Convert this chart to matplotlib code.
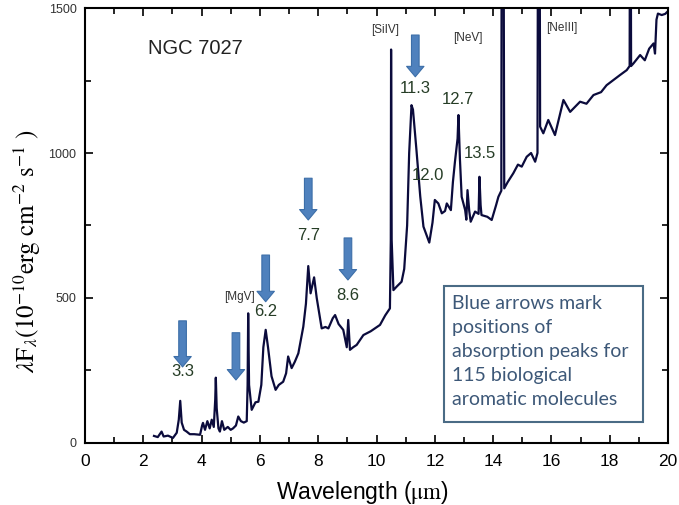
import matplotlib
matplotlib.use('Agg')
import matplotlib.pyplot as plt
from matplotlib.patches import Rectangle
from matplotlib.ticker import MultipleLocator

plt.rcParams['mathtext.fontset'] = 'stix'

# spectrum of NGC 7027, lines above 1500 run off the top
wavelength = [2.37, 2.5, 2.63, 2.7, 2.85, 3.02, 3.15, 3.22, 3.27, 3.32, 3.4, 3.49, 3.6, 3.75,
              3.95, 4.02, 4.05, 4.12, 4.2, 4.28, 4.35, 4.42, 4.47, 4.49, 4.52, 4.58, 4.63, 4.7,
              4.78, 4.9, 5.0, 5.08, 5.18, 5.26, 5.35, 5.45, 5.55, 5.58, 5.6, 5.63, 5.72, 5.85,
              5.95, 6.05, 6.12, 6.2, 6.28, 6.4, 6.54, 6.65, 6.8, 6.9, 6.97, 7.09, 7.2, 7.32,
              7.49, 7.58, 7.66, 7.74, 7.86, 7.95, 8.12, 8.25, 8.35, 8.5, 8.58, 8.7, 8.86, 8.98,
              9.03, 9.09, 9.2, 9.32, 9.55, 9.8, 10.12, 10.3, 10.46, 10.49, 10.5, 10.52, 10.58,
              10.7, 10.86, 10.95, 11.05, 11.12, 11.2, 11.25, 11.37, 11.5, 11.61, 11.81, 11.92,
              12.0, 12.12, 12.24, 12.35, 12.41, 12.55, 12.62, 12.69, 12.78, 12.81, 12.86, 12.92,
              13.04, 13.08, 13.12, 13.18, 13.23, 13.38, 13.5, 13.53, 13.57, 13.6, 13.8, 13.95,
              14.1, 14.18, 14.28, 14.3, 14.34, 14.38, 14.5, 14.69, 14.85, 14.98, 15.15, 15.3,
              15.44, 15.52, 15.55, 15.58, 15.61, 15.72, 15.89, 16.12, 16.41, 16.64, 16.98, 17.2,
              17.44, 17.7, 17.89, 18.1, 18.35, 18.58, 18.68, 18.7, 18.73, 18.81, 19.04, 19.2,
              19.35, 19.5, 19.55, 19.6, 19.65, 19.78, 19.9, 20.0]
flux = [24, 20, 39, 22, 25, 17, 35, 80, 145, 70, 45, 39, 30, 30,
        28, 60, 69, 45, 75, 50, 80, 55, 150, 225, 120, 50, 39, 75,
        45, 55, 45, 50, 60, 91, 75, 70, 75, 200, 447, 200, 114, 140,
        142, 200, 330, 390, 330, 230, 183, 200, 211, 240, 298, 258, 280, 309,
        401, 480, 610, 516, 571, 500, 395, 400, 395, 430, 441, 410, 390, 330,
        424, 321, 330, 338, 372, 385, 407, 440, 464, 700, 1357, 700, 527,
        540, 556, 600, 750, 1000, 1165, 1150, 1010, 850, 746, 691, 760,
        838, 826, 792, 800, 826, 803, 900, 970, 1050, 1131, 980, 849,
        803, 770, 872, 800, 763, 798, 790, 918, 820, 786, 780, 769,
        820, 849, 870, 2500, 2500, 878, 900, 930, 960, 953, 987, 1000,
        970, 1000, 2500, 2500, 1091, 1068, 1114, 1062, 1183, 1142, 1177, 1170,
        1200, 1210, 1234, 1250, 1269, 1286, 1300, 2500, 1300, 1309, 1338, 1320,
        1360, 1378, 1343, 1460, 1481, 1476, 1480, 1490]

# blue arrows: (position, arrow top, arrow tip, label)
arrow_x = [3.35, 5.18, 6.2, 7.66, 9.02, 11.33]
arrow_top = [421, 380, 648, 913, 707, 1407]
arrow_tip = [262, 217, 487, 769, 562, 1263]
arrow_labels = ['3.3', '', '6.2', '7.7', '8.6', '11.3']
arrow_label_y = [245, 0, 452, 714, 510, 1224]

# feature labels without arrows
peak_labels = ['12.0', '12.7', '13.5']
peak_x = [11.77, 12.8, 13.55]
peak_y = [924, 1183, 1000]

# emission line ids
line_ids = ['[SiIV]', '[NeV]', '[NeIII]', '[MgV]']
line_x = [10.29, 13.14, 16.36, 5.3]
line_y = [1424, 1397, 1431, 503]

fig = plt.figure(figsize=(6.79, 5.05), dpi=100)
ax = fig.add_axes([0.125, 0.123, 0.859, 0.861])

ax.plot(wavelength, flux, color='#0b0b3c', lw=1.6)

for x, top, tip, lab, ly in zip(arrow_x, arrow_top, arrow_tip, arrow_labels, arrow_label_y):
    ax.annotate('', xy=(x, tip), xytext=(x, top),
                arrowprops=dict(facecolor='#4f81bd', edgecolor='#3c6ea8', lw=0.8,
                                width=5.5, headwidth=12.5, headlength=7.5, shrink=0))
    if lab:
        ax.text(x, ly, lab, ha='center', va='center', fontsize=12,
                color='#263d26', family='Liberation Sans')

for lab, x, y in zip(peak_labels, peak_x, peak_y):
    ax.text(x, y, lab, ha='center', va='center', fontsize=12,
            color='#263d26', family='Liberation Sans')

for lab, x, y in zip(line_ids, line_x, line_y):
    ax.text(x, y, lab, ha='center', va='center', fontsize=8.5,
            color='#333333', family='Liberation Sans')

ax.text(3.8, 1362, 'NGC 7027', ha='center', va='center', fontsize=14.5,
        color='#222222', family='Liberation Sans')

# note box
ax.add_patch(Rectangle((12.32, 72), 6.82, 469, facecolor='white',
                       edgecolor='#4a6b85', lw=1.5, zorder=3))
ax.text(12.6, 510, 'Blue arrows mark\npositions of\nabsorption peaks for\n115 biological\naromatic molecules',
        ha='left', va='top', fontsize=14, color='#3d5878', family='Lato',
        linespacing=1.5, zorder=4)

ax.set_xlim(0, 20)
ax.set_ylim(0, 1500)
ax.xaxis.set_major_locator(MultipleLocator(2))
ax.xaxis.set_minor_locator(MultipleLocator(1))
ax.yaxis.set_major_locator(MultipleLocator(500))
ax.yaxis.set_minor_locator(MultipleLocator(250))
ax.tick_params(which='both', direction='in', top=True, right=True, width=1.2)
ax.tick_params(which='major', length=6)
ax.tick_params(which='minor', length=4)
ax.tick_params(axis='x', labelsize=12.5, pad=8)
ax.tick_params(axis='y', labelsize=9, labelcolor='#333333', pad=6)
for lab in ax.get_xticklabels() + ax.get_yticklabels():
    lab.set_family('Liberation Sans')
for s in ax.spines.values():
    s.set_linewidth(1.5)

ax.set_xlabel(r'Wavelength ($\mathrm{\mu m}$)', fontsize=16.5, family='Liberation Sans')
ax.xaxis.set_label_coords(0.476, -0.082)
ax.set_ylabel(r'$\lambda\mathrm{F}_\lambda(10^{-10}\mathrm{erg\ cm}^{-2}\ \mathrm{s}^{-1}\ )$',
              fontsize=18)
ax.yaxis.set_label_coords(-0.072, 0.44)

fig.savefig('out.png', dpi=100)
